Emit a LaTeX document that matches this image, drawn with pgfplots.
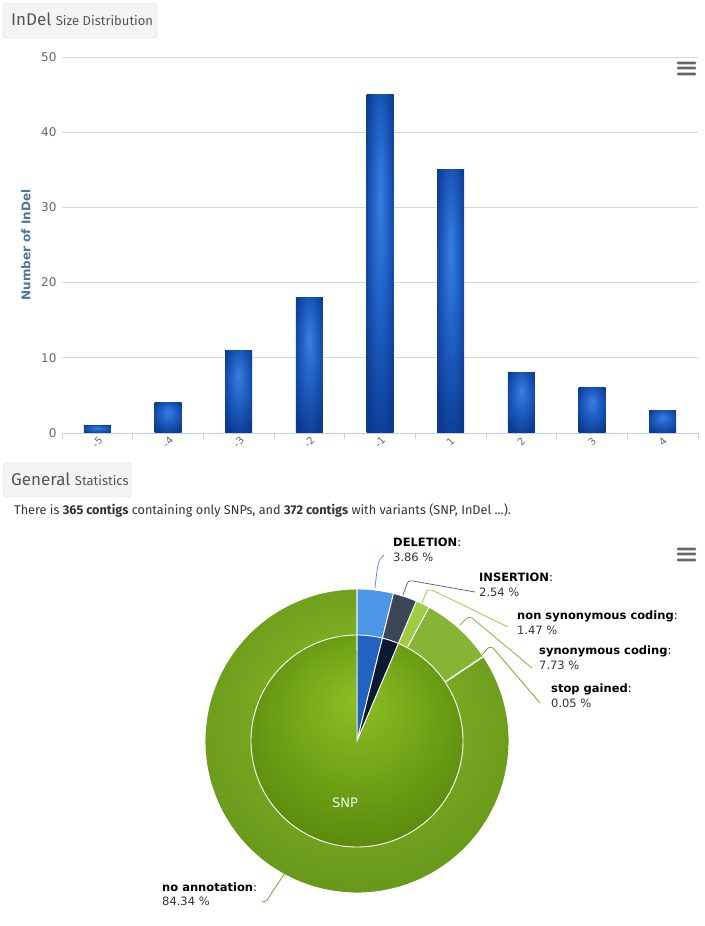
\documentclass[border=0pt]{standalone}
\usepackage{pgfplots}
\pgfplotsset{compat=1.18}
\usepackage{fontspec}
\setmainfont{DejaVu Sans}
\newfontfamily\hfont{Fira Sans}
\definecolor{hdrfill}{HTML}{F4F4F4}
\definecolor{hdrdraw}{HTML}{D6D6D6}
\definecolor{hdrtext}{HTML}{555555}
\definecolor{bodytext}{HTML}{333333}
\definecolor{tickcol}{HTML}{666666}
\definecolor{gridcol}{HTML}{D8D8D8}
\definecolor{axiscol}{HTML}{C0D0E0}
\definecolor{ylabcol}{HTML}{4D759E}
\definecolor{barA}{HTML}{3A7EE0}
\definecolor{barB}{HTML}{2060C4}
\definecolor{barC}{HTML}{0A3A92}
\definecolor{menucol}{HTML}{666666}
\definecolor{delout}{HTML}{4D95E6}
\definecolor{delin}{HTML}{2263C2}
\definecolor{insout}{HTML}{3B4656}
\definecolor{insin}{HTML}{0B1A30}
\definecolor{nonsyn}{HTML}{9FCC42}
\definecolor{syn}{HTML}{86B535}
\definecolor{stopg}{HTML}{78A82A}
\definecolor{snpA}{HTML}{8CBF24}
\definecolor{snpB}{HTML}{6A9C14}
\definecolor{snpC}{HTML}{4A7A06}
\definecolor{noA}{HTML}{8CBF26}
\definecolor{noB}{HTML}{74A41E}
\definecolor{noC}{HTML}{68991A}
\definecolor{noD}{HTML}{578810}
\pgfdeclareradialshading{barshade}{\pgfpoint{0bp}{10bp}}{color(0bp)=(barA); color(14bp)=(barB); color(32bp)=(barC); color(50bp)=(barC)}
\pgfdeclareradialshading{snpshade}{\pgfpoint{0bp}{11bp}}{color(0bp)=(snpA); color(18bp)=(snpB); color(36bp)=(snpC); color(50bp)=(snpC)}
\pgfdeclareradialshading{noshade}{\pgfpoint{0bp}{8bp}}{color(0bp)=(noA); color(17bp)=(noB); color(25bp)=(noC); color(33bp)=(noD); color(50bp)=(noD)}

% pie data (percent)
\def\pDel{3.86}
\def\pIns{2.54}
\def\pNon{1.47}
\def\pSyn{7.73}
\def\pStop{0.05}
\def\pNo{84.34}
\pgfmathsetmacro\aA{90}
\pgfmathsetmacro\aB{\aA-3.6*\pDel}
\pgfmathsetmacro\aC{\aB-3.6*\pIns}
\pgfmathsetmacro\aD{\aC-3.6*\pNon}
\pgfmathsetmacro\aE{\aD-3.6*\pSyn}
\pgfmathsetmacro\aF{\aE-3.6*\pStop}
\pgfmathsetmacro\aG{\aF-3.6*\pNo}

\newcommand{\pieslice}[4]{%
  \path[#1, draw=white, line width=0.9pt] (axis cs:0,0) -- (axis cs:{#4*cos(#2)},{#4*sin(#2)}) arc[start angle=#2, end angle=#3, radius=#4pt] -- cycle;}

\begin{document}
\begin{tikzpicture}[x=1pt,y=1pt]
\useasboundingbox (0,0) rectangle (704,926);
% ---------- header 1
\path[fill=hdrfill, draw=hdrdraw, rounded corners=3pt] (3,923) rectangle (157,888);
\node[anchor=base west, inner sep=0, text=hdrtext] at (11,900) {\hfont\fontsize{17}{20}\selectfont InDel {\fontsize{13}{15}\selectfont Size Distribution}};
% menu icon 1
\foreach \yy in {863,858,852} {\fill[menucol, rounded corners=1pt] (677,\yy-1.3) rectangle (696,\yy+1.3);}

\begin{axis}[at={(62pt,493pt)}, anchor=south west, scale only axis,
  width=636pt, height=376pt,
  xmin=-0.5, xmax=8.5, ymin=0, ymax=50,
  ytick={0,10,...,50},
  xtick={0,...,8}, xticklabels={-5,-4,-3,-2,-1,1,2,3,4},
  minor xtick={-0.5,0.5,...,8.5},
  axis x line*=bottom, axis y line*=left,
  x axis line style={draw=axiscol, line width=0.8pt},
  y axis line style={draw=none},
  xtick pos=lower, ytick pos=left,
  tick align=outside,
  major tick length=0pt, minor tick length=6pt,
  xtick style={draw=none}, ytick style={draw=none},
  minor x tick style={draw=axiscol, line width=0.8pt},
  ymajorgrids, grid style={draw=gridcol, line width=0.8pt},
  /pgf/number format/assume math mode=true,
  yticklabel style={text=tickcol, font=\fontsize{12}{14}\selectfont, xshift=-2pt},
  xticklabel style={text=tickcol, font=\fontsize{10}{11}\selectfont, yshift=-9pt, rotate=45, anchor=center, inner sep=0pt},
  every axis y label/.style={at={(axis description cs:-0.0566,0.5)}, rotate=90, anchor=center},
  ylabel={\textbf{Number of InDel}},
  ylabel style={text=ylabcol, font=\fontsize{12}{14}\selectfont},
  clip=false,
  bstyle/.style={ybar, bar width=27pt, bar shift=0pt, draw=none, shading=barshade},
]
\addplot[bstyle] coordinates {(0,1)};
\addplot[bstyle] coordinates {(1,4)};
\addplot[bstyle] coordinates {(2,11)};
\addplot[bstyle] coordinates {(3,18)};
\addplot[bstyle] coordinates {(4,45)};
\addplot[bstyle] coordinates {(5,35)};
\addplot[bstyle] coordinates {(6,8)};
\addplot[bstyle] coordinates {(7,6)};
\addplot[bstyle] coordinates {(8,3)};
\end{axis}

% ---------- header 2
\path[fill=hdrfill, draw=hdrdraw, rounded corners=3pt] (3,463) rectangle (131,429);
\node[anchor=base west, inner sep=0, text=hdrtext] at (11,440) {\hfont\fontsize{17}{20}\selectfont General {\fontsize{13}{15}\selectfont Statistics}};
\node[anchor=base west, inner sep=0, text=bodytext] at (14,411) {\hfont\fontsize{12.7}{15}\selectfont There is \textbf{365 contigs} containing only SNPs, and \textbf{372 contigs} with variants (SNP, InDel ...).};
% menu icon 2
\foreach \yy in {377,372,366} {\fill[menucol, rounded corners=1pt] (677,\yy-1.3) rectangle (696,\yy+1.3);}

% ---------- pie
\begin{axis}[at={(357pt,185pt)}, anchor=center, scale only axis,
  width=304pt, height=304pt, xmin=-152, xmax=152, ymin=-152, ymax=152,
  hide axis, clip=false]
\addplot[draw=none] coordinates {(0,0)};
% outer ring
\pieslice{fill=delout}{\aA}{\aB}{152}
\pieslice{fill=insout}{\aB}{\aC}{152}
\pieslice{fill=nonsyn}{\aC}{\aD}{152}
\pieslice{fill=syn}{\aD}{\aE}{152}
\pieslice{fill=stopg}{\aE}{\aF}{152}
\pieslice{shading=noshade}{\aF}{\aG}{152}
% inner pie
\pieslice{fill=delin}{\aA}{\aB}{106}
\pieslice{fill=insin}{\aB}{\aC}{106}
\pieslice{shading=snpshade}{\aC}{\aG}{106}
\node[text=white!92!green, font=\fontsize{13}{15}\selectfont] at (axis cs:-12,-62) {SNP};
% connectors
\draw[delout, line width=0.8pt] (axis cs:18,153) .. controls (axis cs:21,180) .. (axis cs:27,186);
\draw[insout!80!white, line width=0.8pt] (axis cs:46,146) -- (axis cs:50,157) .. controls (axis cs:51,160) .. (axis cs:56,160) -- (axis cs:118,149);
\draw[nonsyn, line width=0.8pt] (axis cs:65,138) -- (axis cs:69,148) .. controls (axis cs:70,151) .. (axis cs:75,151) -- (axis cs:151,114);
\draw[syn, line width=0.8pt] (axis cs:103,116) -- (axis cs:109,122) .. controls (axis cs:111,124) .. (axis cs:115,123) -- (axis cs:175,73);
\draw[stopg, line width=0.8pt] (axis cs:125,86) -- (axis cs:130,92) .. controls (axis cs:132,94) .. (axis cs:136,93) -- (axis cs:183,38);
\draw[noB!80!gray, line width=0.8pt] (axis cs:-72,-132) -- (axis cs:-88,-156) .. controls (axis cs:-90,-160) .. (axis cs:-95,-161);
\end{axis}

% pie labels
\tikzset{plab/.style={anchor=base west, inner sep=0, align=left, text=black, font=\fontsize{11.5}{15}\selectfont}}
\node[plab] at (393,364) {\textbf{DELETION}:\\\textcolor{bodytext}{3.86 \%}};
\node[plab] at (479,329) {\textbf{INSERTION}:\\\textcolor{bodytext}{2.54 \%}};
\node[plab] at (517,291) {\textbf{non synonymous coding}:\\\textcolor{bodytext}{1.47 \%}};
\node[plab] at (539,256) {\textbf{synonymous coding}:\\\textcolor{bodytext}{7.73 \%}};
\node[plab] at (551,218) {\textbf{stop gained}:\\\textcolor{bodytext}{0.05 \%}};
\node[plab] at (162,20) {\textbf{no annotation}:\\\textcolor{bodytext}{84.34 \%}};
\end{tikzpicture}
\end{document}
